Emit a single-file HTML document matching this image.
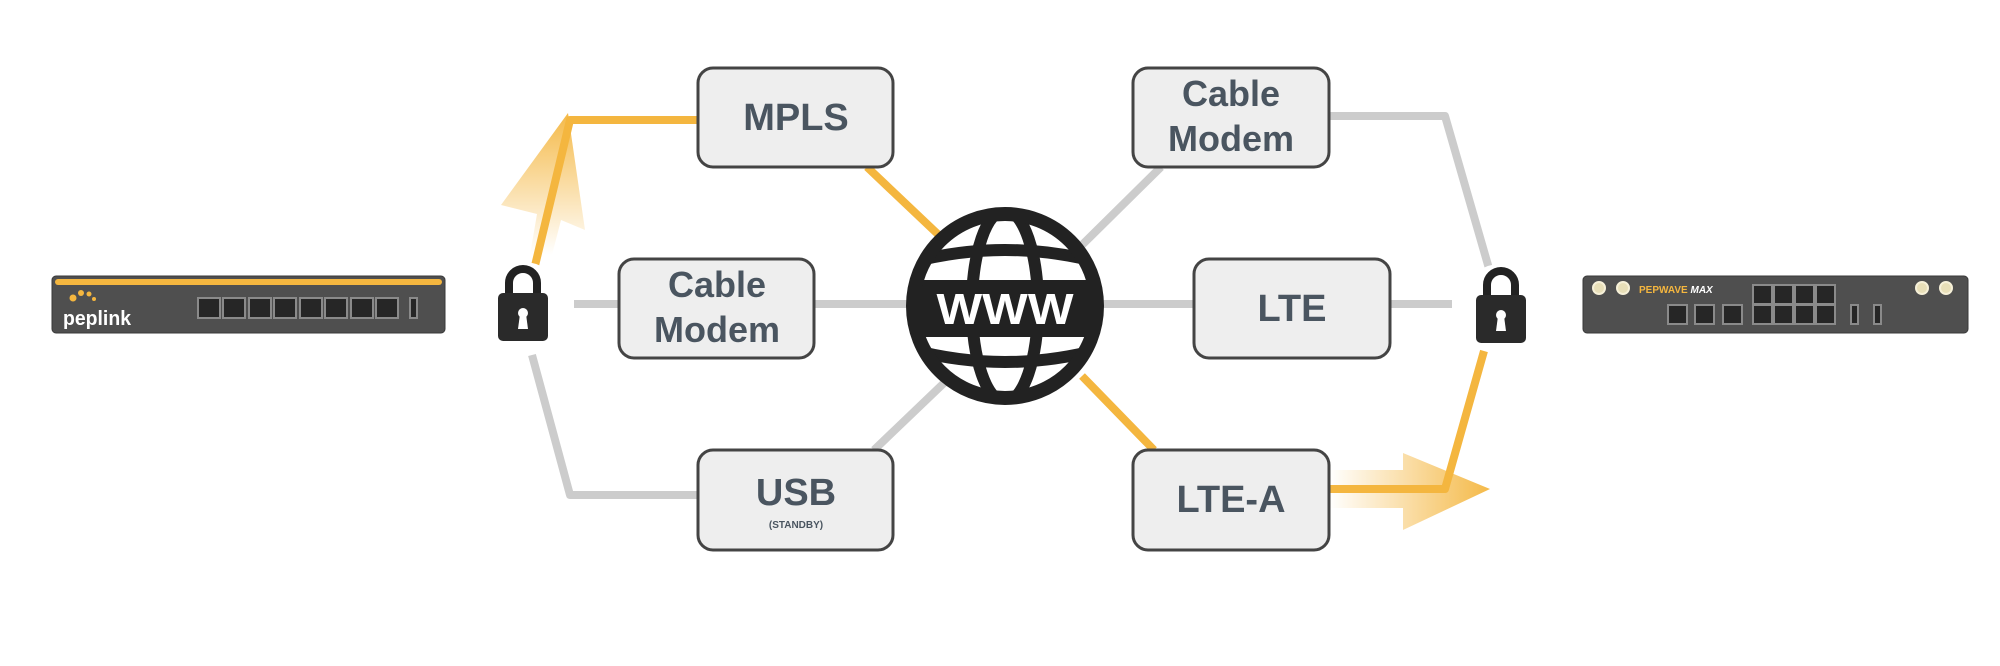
<!DOCTYPE html>
<html><head><meta charset="utf-8"><style>
html,body{margin:0;padding:0;background:#fff;}
svg{display:block;}
.lbl{font-family:"Liberation Sans",sans-serif;font-weight:bold;fill:#4a5560;text-anchor:middle;}
</style></head><body>
<svg width="2000" height="666" viewBox="0 0 2000 666" xmlns="http://www.w3.org/2000/svg">
<defs>
<linearGradient id="gu" x1="0" y1="1" x2="0" y2="0">
<stop offset="0" stop-color="#f4b63f" stop-opacity="0"/>
<stop offset="1" stop-color="#f4b63f" stop-opacity="0.95"/>
</linearGradient>
<linearGradient id="gr" x1="0" y1="0" x2="1" y2="0">
<stop offset="0" stop-color="#f4b63f" stop-opacity="0"/>
<stop offset="1" stop-color="#f4b63f" stop-opacity="0.95"/>
</linearGradient>
<clipPath id="gc"><circle cx="1005" cy="306" r="92"/></clipPath>
</defs>

<g stroke="#cccccc" stroke-width="8" fill="none" stroke-linejoin="round">
<line x1="574" y1="304" x2="1452" y2="304"/>
<polyline points="532,355 570,495 698,495"/>
<line x1="874" y1="450" x2="944" y2="383"/>
<line x1="1161" y1="167" x2="1082" y2="245"/>
<polyline points="1329,116 1445,116 1490,272"/>
</g>
<g stroke="#f4b63f" stroke-width="8" fill="none" stroke-linejoin="round">
<polyline points="698,120 570,120 533,274"/>
<line x1="867" y1="167" x2="944" y2="240"/>
<line x1="1082" y1="376" x2="1154" y2="450"/>
<polyline points="1329,489 1445,489 1484,351"/>
</g>
<polygon points="568,113 585,230 561,220 552,255 530,255 537,214 501,205" fill="url(#gu)"/>
<polygon points="1329,470 1403,470 1403,453 1490,489 1403,530 1403,508 1329,508" fill="url(#gr)"/>

<g fill="#eeeeee" stroke="#444" stroke-width="3">
<rect x="698" y="68" width="195" height="99" rx="15"/>
<rect x="619" y="259" width="195" height="99" rx="15"/>
<rect x="698" y="450" width="195" height="100" rx="15"/>
<rect x="1133" y="68" width="196" height="99" rx="15"/>
<rect x="1194" y="259" width="196" height="99" rx="15"/>
<rect x="1133" y="450" width="196" height="100" rx="15"/>
</g>
<text class="lbl" x="796" y="130" font-size="38">MPLS</text>
<text class="lbl" x="717" y="297" font-size="36">Cable</text>
<text class="lbl" x="717" y="342" font-size="36">Modem</text>
<text class="lbl" x="796" y="505" font-size="38">USB</text>
<text class="lbl" x="796" y="528" font-size="10" font-weight="normal">(STANDBY)</text>
<text class="lbl" x="1231" y="106" font-size="36">Cable</text>
<text class="lbl" x="1231" y="151" font-size="36">Modem</text>
<text class="lbl" x="1292" y="321" font-size="38">LTE</text>
<text class="lbl" x="1231" y="512" font-size="38">LTE-A</text>

<circle cx="1005" cy="306" r="92" fill="#fff"/>
<g clip-path="url(#gc)" fill="none" stroke="#222" stroke-width="12">
<ellipse cx="1005" cy="306" rx="33" ry="96"/>
<path d="M895,267 Q1005,233 1115,267"/>
<path d="M895,345 Q1005,379 1115,345"/>
<rect x="900" y="280" width="210" height="57" fill="#222" stroke="none"/>
</g>
<circle cx="1005" cy="306" r="92" fill="none" stroke="#222" stroke-width="14"/>
<text x="1005" y="324" font-family="Liberation Sans,sans-serif" font-weight="bold" font-size="44" fill="#fff" text-anchor="middle" textLength="137" lengthAdjust="spacingAndGlyphs">WWW</text>

<g id="lk">
<circle cx="523" cy="304" r="42" fill="#fff"/>
<path d="M509,296 V283 A14,14 0 0 1 537,283 V296" fill="none" stroke="#222" stroke-width="8"/>
<rect x="498" y="293" width="50" height="48" rx="5" fill="#2a2a2a"/>
<circle cx="523" cy="313" r="5" fill="#fff"/>
<polygon points="520,314 526,314 528,329 518,329" fill="#fff"/>
</g>
<use href="#lk" x="978" y="2"/>

<rect x="52" y="276" width="393" height="57" rx="4" fill="#4f4f4f" stroke="#3a3a3a" stroke-width="1"/>
<rect x="55" y="279" width="387" height="6" rx="3" fill="#f4b63f"/>
<g fill="#f4b63f"><circle cx="73" cy="298" r="3.5"/><circle cx="81" cy="293" r="3"/><circle cx="89" cy="294" r="2.5"/><circle cx="94" cy="299" r="2"/></g>
<text x="63" y="325" font-family="Liberation Sans,sans-serif" font-weight="bold" font-size="20" fill="#fff" textLength="68" lengthAdjust="spacingAndGlyphs">peplink</text>
<g fill="#262626" stroke="#8a8a8a" stroke-width="2">
<rect x="198" y="298" width="22" height="20"/><rect x="223" y="298" width="22" height="20"/><rect x="249" y="298" width="22" height="20"/><rect x="274" y="298" width="22" height="20"/><rect x="300" y="298" width="22" height="20"/><rect x="325" y="298" width="22" height="20"/><rect x="351" y="298" width="22" height="20"/><rect x="376" y="298" width="22" height="20"/>
<rect x="410" y="298" width="7" height="20"/>
</g>

<rect x="1583" y="276" width="385" height="57" rx="4" fill="#4f4f4f" stroke="#3a3a3a" stroke-width="1"/>
<g fill="#e8dfb8" stroke="#f6f0d8" stroke-width="2"><circle cx="1599" cy="288" r="6"/><circle cx="1623" cy="288" r="6"/><circle cx="1922" cy="288" r="6"/><circle cx="1946" cy="288" r="6"/></g>
<text x="1639" y="293" font-family="Liberation Sans,sans-serif" font-weight="bold" font-size="10" fill="#f4b63f">PEPWAVE<tspan fill="#fff" font-style="italic"> MAX</tspan></text>
<g fill="#262626" stroke="#8a8a8a" stroke-width="2">
<rect x="1668" y="305" width="19" height="19"/><rect x="1695" y="305" width="19" height="19"/><rect x="1723" y="305" width="19" height="19"/>
<rect x="1753" y="285" width="19" height="19"/><rect x="1774" y="285" width="19" height="19"/><rect x="1795" y="285" width="19" height="19"/><rect x="1816" y="285" width="19" height="19"/>
<rect x="1753" y="305" width="19" height="19"/><rect x="1774" y="305" width="19" height="19"/><rect x="1795" y="305" width="19" height="19"/><rect x="1816" y="305" width="19" height="19"/>
<rect x="1851" y="305" width="7" height="19"/><rect x="1874" y="305" width="7" height="19"/>
</g>
</svg>
</body></html>
